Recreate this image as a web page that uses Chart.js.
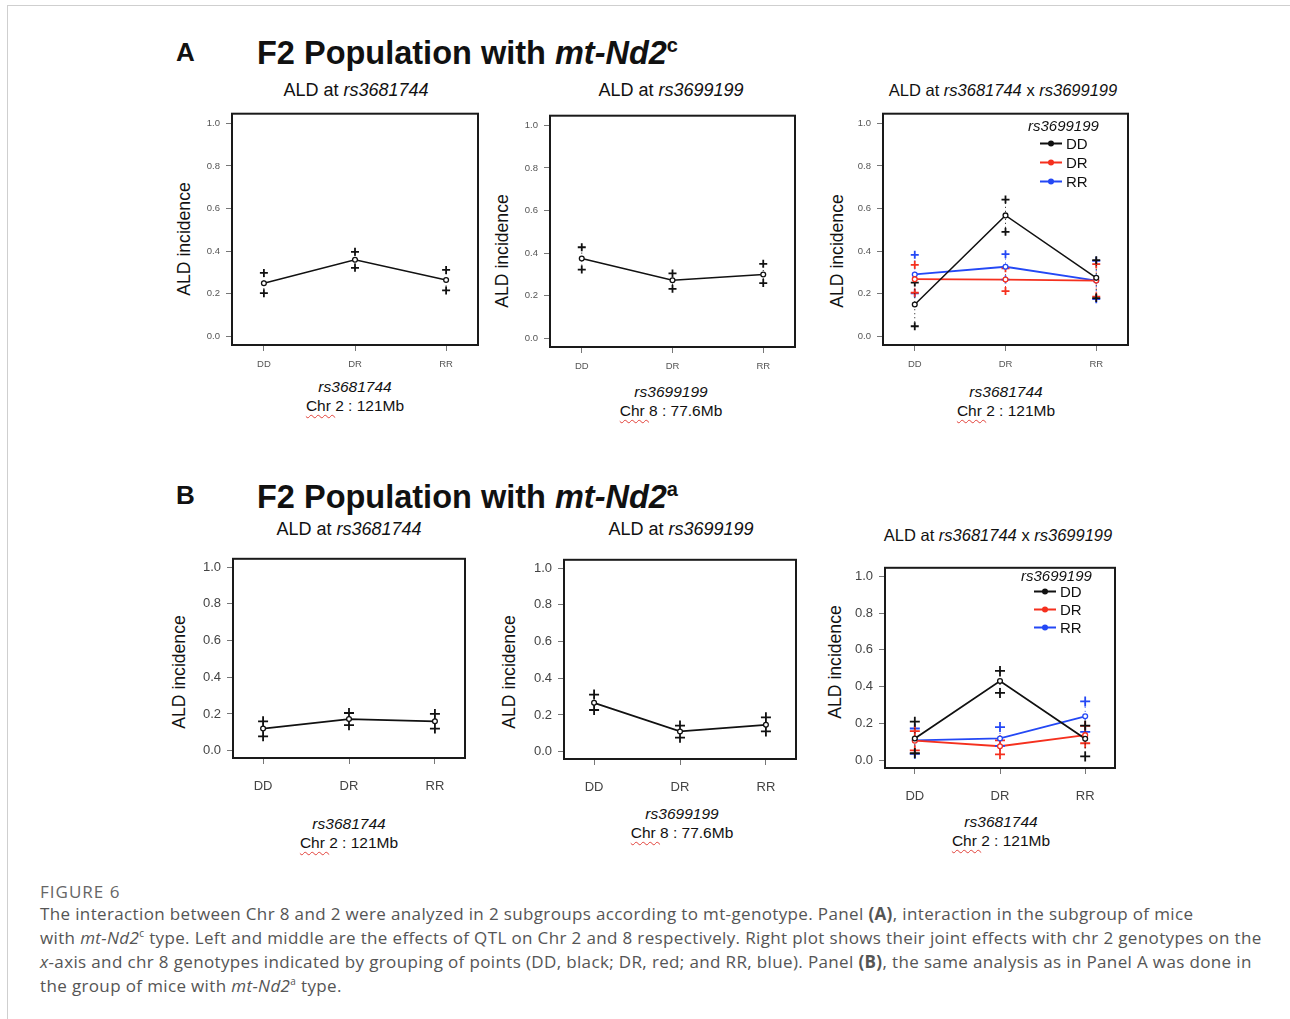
<!DOCTYPE html>
<html>
<head>
<meta charset="utf-8">
<script src="https://cdn.jsdelivr.net/npm/chart.js@4.4.1/dist/chart.umd.min.js"></script>
<style>
    body { margin: 0; background: #fff; }
    #page { position: relative; width: 1290px; height: 1019px; overflow: hidden; background: #fff;
            font-family: "Liberation Sans", Arial, sans-serif; color: #111; }
    .frame { position: absolute; left: 7px; top: 5px; width: 1300px; height: 1100px;
             border-left: 1.5px solid #cfcfcf; border-top: 1.5px solid #cfcfcf; }
    .t { position: absolute; white-space: nowrap; line-height: 1; transform: translate(-50%, -50%); }
    .l { position: absolute; white-space: nowrap; line-height: 1; transform: translateY(-50%); }
    .letter { font-weight: bold; font-size: 26px; }
    .big { font-weight: bold; font-size: 32.5px; }
    .big sup { font-size: 20px; vertical-align: 0; position: relative; top: -12px; }
    .sub { font-size: 18px; }
    .sub2 { font-size: 16.5px; }
    .ytitle { position: absolute; white-space: nowrap; line-height: 1; font-size: 17.6px;
              transform: translate(-50%, -50%) rotate(-90deg); }
    .xt { font-size: 15.5px; }
    .chr { text-decoration: underline wavy #e2413a; text-decoration-thickness: 1px; text-underline-offset: 3px; }
    canvas { position: absolute; }
    .leg { font-size: 15px; }
    .key { display: inline-block; position: relative; width: 22px; height: 2px; vertical-align: middle; margin-right: 4px; top: -1px; }
    .key i { position: absolute; left: 8px; top: -2px; width: 6px; height: 6px; border-radius: 50%; }
    .caption { position: absolute; left: 40px; top: 902px; font-family: "Open Sans", Lato, sans-serif;
               font-size: 17px; line-height: 24px; color: #555; white-space: nowrap; letter-spacing: 0.36px; }
    .caption sup { font-size: 10px; line-height: 0; }
    .fig { position: absolute; left: 40px; top: 880px; font-family: "Open Sans", Lato, sans-serif;
           font-size: 17px; color: #666; letter-spacing: 1px; }
</style>
</head>
<body>
<div id="page">
    <div class="frame"></div>

    <div class="l letter" style="left:176px;top:52px;">A</div>
    <div class="l big" style="left:257px;top:53px;">F2 Population with <i>mt-Nd2</i><sup>c</sup></div>
    <div class="t sub" style="left:356px;top:90px;">ALD at <i>rs3681744</i></div>
    <div class="t sub" style="left:671px;top:90px;">ALD at <i>rs3699199</i></div>
    <div class="t sub2" style="left:1003px;top:90px;">ALD at <i>rs3681744</i> x <i>rs3699199</i></div>

    <div class="l letter" style="left:176px;top:495px;">B</div>
    <div class="l big" style="left:257px;top:497px;">F2 Population with <i>mt-Nd2</i><sup>a</sup></div>
    <div class="t sub" style="left:349px;top:529px;">ALD at <i>rs3681744</i></div>
    <div class="t sub" style="left:681px;top:529px;">ALD at <i>rs3699199</i></div>
    <div class="t sub2" style="left:998px;top:535px;">ALD at <i>rs3681744</i> x <i>rs3699199</i></div>

    <div class="ytitle" style="left:185px;top:239px;">ALD incidence</div>
    <div class="ytitle" style="left:503px;top:251px;">ALD incidence</div>
    <div class="ytitle" style="left:838px;top:251px;">ALD incidence</div>
    <div class="ytitle" style="left:180px;top:672px;">ALD incidence</div>
    <div class="ytitle" style="left:510px;top:672px;">ALD incidence</div>
    <div class="ytitle" style="left:836px;top:662px;">ALD incidence</div>

    <div class="t xt" style="left:355px;top:387px;"><i>rs3681744</i></div>
    <div class="t xt" style="left:355px;top:406px;"><span class="chr">Chr </span>2 : 121Mb</div>
    <div class="t xt" style="left:671px;top:392px;"><i>rs3699199</i></div>
    <div class="t xt" style="left:671px;top:411px;"><span class="chr">Chr </span>8 : 77.6Mb</div>
    <div class="t xt" style="left:1006px;top:392px;"><i>rs3681744</i></div>
    <div class="t xt" style="left:1006px;top:411px;"><span class="chr">Chr </span>2 : 121Mb</div>
    <div class="t xt" style="left:349px;top:824px;"><i>rs3681744</i></div>
    <div class="t xt" style="left:349px;top:843px;"><span class="chr">Chr </span>2 : 121Mb</div>
    <div class="t xt" style="left:682px;top:814px;"><i>rs3699199</i></div>
    <div class="t xt" style="left:682px;top:833px;"><span class="chr">Chr </span>8 : 77.6Mb</div>
    <div class="t xt" style="left:1001px;top:822px;"><i>rs3681744</i></div>
    <div class="t xt" style="left:1001px;top:841px;"><span class="chr">Chr </span>2 : 121Mb</div>

    <canvas id="a1" width="306" height="288" style="left:182px;top:102px;"></canvas>
    <canvas id="a2" width="305" height="288" style="left:500px;top:104px;"></canvas>
    <canvas id="a3" width="305" height="288" style="left:833px;top:102px;"></canvas>
    <canvas id="b1" width="292" height="258" style="left:183px;top:545px;"></canvas>
    <canvas id="b2" width="292" height="258" style="left:514px;top:546px;"></canvas>
    <canvas id="b3" width="290" height="259" style="left:835px;top:554px;"></canvas>

    <div id="legA"></div>
    <div id="legB"></div>

    <div class="fig">FIGURE 6</div>
    <div class="caption">
        The interaction between Chr 8 and 2 were analyzed in 2 subgroups according to mt-genotype. Panel <b>(A)</b>, interaction in the subgroup of mice<br>
        with <i>mt-Nd2</i><sup>c</sup> type. Left and middle are the effects of QTL on Chr 2 and 8 respectively. Right plot shows their joint effects with chr 2 genotypes on the<br>
        <i>x</i>-axis and chr 8 genotypes indicated by grouping of points (DD, black; DR, red; and RR, blue). Panel <b>(B)</b>, the same analysis as in Panel A was done in<br>
        the group of mice with <i>mt-Nd2</i><sup>a</sup> type.
    </div>
</div>

<script>
// genotypes on the x axis, y tick values
const genotypes = ['DD', 'DR', 'RR'];
const yTicks = [0, 0.2, 0.4, 0.6, 0.8, 1.0];

// legend groups (chr 8 genotype)
const groupNames = ['DD', 'DR', 'RR'];
const groupColors = ['#111111', '#f5301e', '#2448f5'];

// panel A (mt-Nd2c): ALD at rs3681744
const a1Mean = [0.25, 0.36, 0.265];
const a1Lo = [0.203, 0.322, 0.216];
const a1Hi = [0.298, 0.397, 0.312];

// panel A: ALD at rs3699199
const a2Mean = [0.375, 0.273, 0.30];
const a2Lo = [0.323, 0.233, 0.26];
const a2Hi = [0.428, 0.305, 0.35];

// panel A: rs3681744 x rs3699199
const a3DDMean = [0.15, 0.568, 0.275];
const a3DDLo = [0.048, 0.491, 0.18];
const a3DDHi = [0.253, 0.642, 0.358];
const a3DRMean = [0.269, 0.267, 0.262];
const a3DRLo = [0.205, 0.213, 0.187];
const a3DRHi = [0.336, 0.32, 0.339];
const a3RRMean = [0.291, 0.327, 0.262];
const a3RRLo = [0.202, 0.267, 0.175];
const a3RRHi = [0.383, 0.386, 0.355];

// panel B (mt-Nd2a): ALD at rs3681744
const b1Mean = [0.12, 0.172, 0.16];
const b1Lo = [0.078, 0.139, 0.12];
const b1Hi = [0.16, 0.205, 0.2];

// panel B: ALD at rs3699199
const b2Mean = [0.266, 0.11, 0.146];
const b2Lo = [0.227, 0.076, 0.11];
const b2Hi = [0.311, 0.142, 0.187];

// panel B: rs3681744 x rs3699199
const b3DDMean = [0.12, 0.431, 0.118];
const b3DDLo = [0.04, 0.367, 0.023];
const b3DDHi = [0.211, 0.486, 0.19];
const b3DRMean = [0.108, 0.078, 0.138];
const b3DRLo = [0.055, 0.034, 0.094];
const b3DRHi = [0.16, 0.11, 0.188];
const b3RRMean = [0.11, 0.12, 0.24];
const b3RRLo = [0.037, 0.08, 0.156];
const b3RRHi = [0.174, 0.182, 0.321];

function meanPoints(mean) {
    return mean.map((v, i) => ({x: i, y: v}));
}

// lo/hi pairs, broken by a null so each genotype gets its own dotted segment
function ciPoints(lo, hi) {
    let pts = [];
    lo.forEach((v, i) => {
        pts.push({x: i, y: v}, {x: i, y: hi[i]}, {x: i, y: null});
    });
    return pts;
}

function seriesSets(mean, lo, hi, color, lw, cross) {
    return [
        {data: meanPoints(mean), showLine: true, borderColor: color, borderWidth: lw, pointRadius: 0, order: 3},
        {data: ciPoints(lo, hi), showLine: true, spanGaps: false, borderColor: color, borderWidth: 1,
         borderDash: [1, 3], pointStyle: 'cross', pointRadius: cross, pointBorderWidth: 1.8,
         pointBorderColor: color, order: 2},
        {data: meanPoints(mean), showLine: false, pointStyle: 'circle', pointRadius: 2.4,
         pointBorderWidth: 1.3, pointBorderColor: color, pointBackgroundColor: '#fff', order: 1}
    ];
}

// R style box round the plot region
const boxPlugin = {
    id: 'rbox',
    afterDraw(chart) {
        const a = chart.chartArea;
        const ctx = chart.ctx;
        ctx.save();
        ctx.strokeStyle = '#1a1a1a';
        ctx.lineWidth = 2;
        ctx.strokeRect(a.left, a.top, a.right - a.left, a.bottom - a.top);
        ctx.restore();
    }
};

function makePanel(id, datasets, big) {
    const tickFont = {family: '"Liberation Sans", Arial, sans-serif', size: big ? 13 : 9.5};
    const tickColor = big ? '#444' : '#555';
    new Chart(document.getElementById(id), {
        type: 'scatter',
        data: {datasets: datasets},
        options: {
            responsive: false,
            animation: false,
            devicePixelRatio: 1,
            layout: {padding: {top: 10, right: 10, left: 0, bottom: 0}},
            plugins: {legend: {display: false}, tooltip: {enabled: false}},
            scales: {
                x: {
                    type: 'linear', min: -0.35, max: 2.35,
                    afterBuildTicks: s => { s.ticks = genotypes.map((g, i) => ({value: i})); },
                    ticks: {callback: v => genotypes[v], font: tickFont, color: tickColor,
                            padding: big ? 15 : 8, maxRotation: 0, autoSkip: false},
                    grid: {drawOnChartArea: false, tickLength: 6, color: '#777', lineWidth: 1},
                    border: {display: false},
                    afterFit: s => { s.height = 45; }
                },
                y: {
                    type: 'linear', min: -0.04, max: 1.045,
                    afterBuildTicks: s => { s.ticks = yTicks.map(v => ({value: v})); },
                    ticks: {callback: v => v.toFixed(1), font: tickFont, color: tickColor, padding: 6},
                    grid: {drawOnChartArea: false, tickLength: 6, color: '#777', lineWidth: 1},
                    border: {display: false},
                    afterFit: s => { s.width = 50; }
                }
            }
        },
        plugins: [boxPlugin]
    });
}

makePanel('a1', seriesSets(a1Mean, a1Lo, a1Hi, groupColors[0], 1.5, 4), false);
makePanel('a2', seriesSets(a2Mean, a2Lo, a2Hi, groupColors[0], 1.5, 4), false);
makePanel('a3', [].concat(
    seriesSets(a3DDMean, a3DDLo, a3DDHi, groupColors[0], 1.5, 4),
    seriesSets(a3DRMean, a3DRLo, a3DRHi, groupColors[1], 1.8, 4),
    seriesSets(a3RRMean, a3RRLo, a3RRHi, groupColors[2], 1.8, 4)
), false);
makePanel('b1', seriesSets(b1Mean, b1Lo, b1Hi, groupColors[0], 1.8, 5), true);
makePanel('b2', seriesSets(b2Mean, b2Lo, b2Hi, groupColors[0], 1.8, 5), true);
makePanel('b3', [].concat(
    seriesSets(b3DDMean, b3DDLo, b3DDHi, groupColors[0], 1.8, 5),
    seriesSets(b3DRMean, b3DRLo, b3DRHi, groupColors[1], 1.8, 5),
    seriesSets(b3RRMean, b3RRLo, b3RRHi, groupColors[2], 1.8, 5)
), true);

// legends inside the interaction plots
function buildLegend(el, titleX, titleY, keyX, firstY, step) {
    let html = `<div class="l leg" style="left:${titleX}px;top:${titleY}px;"><i>rs3699199</i></div>`;
    groupNames.forEach((name, i) => {
        html += `<div class="l leg" style="left:${keyX}px;top:${firstY + i * step}px;">` +
                `<span class="key" style="background:${groupColors[i]}"><i style="background:${groupColors[i]}"></i></span>${name}</div>`;
    });
    document.getElementById(el).innerHTML = html;
}
buildLegend('legA', 1028, 125, 1040, 143, 19);
buildLegend('legB', 1021, 575, 1034, 591, 18);
</script>
</body>
</html>
